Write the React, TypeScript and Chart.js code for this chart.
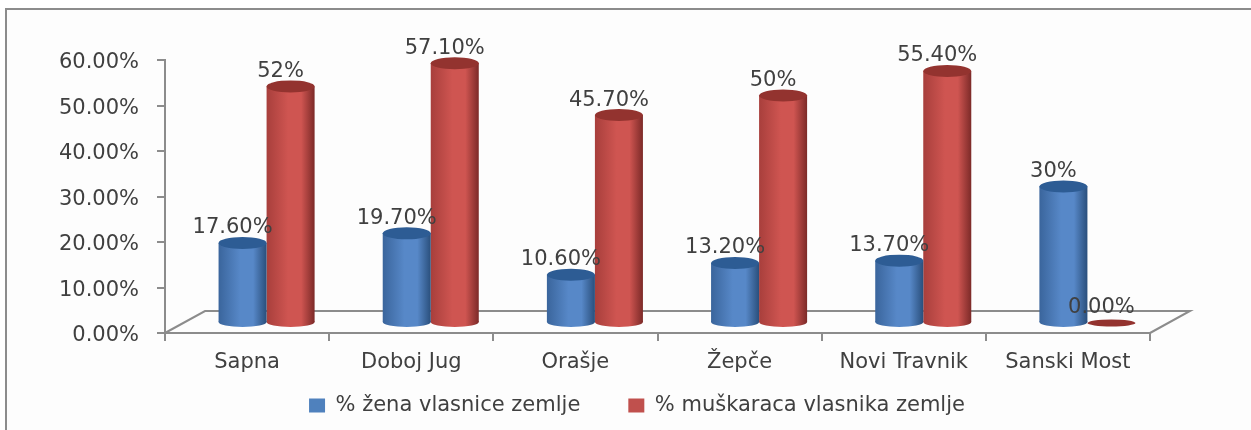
import React, { useEffect, useRef } from "react";
import { Chart, registerables } from "chart.js";

Chart.register(...registerables);

const categories = ["Sapna", "Doboj Jug", "Orašje", "Žepče", "Novi Travnik", "Sanski Most"];
const womenValues = [17.6, 19.7, 10.6, 13.2, 13.7, 30];
const menValues = [52, 57.1, 45.7, 50, 55.4, 0];
const womenLabels = ["17.60%", "19.70%", "10.60%", "13.20%", "13.70%", "30%"];
const menLabels = ["52%", "57.10%", "45.70%", "50%", "55.40%", "0.00%"];
const yTicks = [0, 10, 20, 30, 40, 50, 60];
const seriesNames = ["% žena vlasnice zemlje", "% muškaraca vlasnika zemlje"];

const FONT = '"DejaVu Sans"';
const FONT_SIZE = 21;
const TEXT = "#404040";
const AXIS = "#8c8c8c";
const DX = 19.5;
const DY = -10;
const DEPTH_X = 40;
const DEPTH_Y = 22;
const LEGEND_SHIFT_X = 62;
const LEGEND_SHIFT_Y = -31;

const palettes = [
  { edgeL: "#3a659c", mid: "#5788c8", edgeR: "#2a4f7c", top: "#2d5c94", solid: "#4f81bd" },
  { edgeL: "#a83f3c", mid: "#cf5551", edgeR: "#7c2a28", top: "#93332f", solid: "#c0504d" },
];

function cylinderFill(ctx: any, x0: number, x1: number, p: any) {
  const g = ctx.createLinearGradient(x0, 0, x1, 0);
  g.addColorStop(0, p.edgeL);
  g.addColorStop(0.45, p.mid);
  g.addColorStop(0.72, p.mid);
  g.addColorStop(1, p.edgeR);
  return g;
}

const cylinderPlugin = {
  id: "cylinder",
  afterLayout(chart: any) {
    const l = chart.legend;
    l.left += LEGEND_SHIFT_X;
    l.right += LEGEND_SHIFT_X;
    l.top += LEGEND_SHIFT_Y;
    l.bottom += LEGEND_SHIFT_Y;
  },
  beforeDatasetsDraw(chart: any) {
    const { ctx, chartArea: a } = chart;
    ctx.save();
    ctx.strokeStyle = AXIS;
    ctx.lineWidth = 2;
    ctx.beginPath();
    ctx.moveTo(a.left, a.bottom);
    ctx.lineTo(a.left + DEPTH_X, a.bottom - DEPTH_Y);
    ctx.lineTo(a.right + DEPTH_X, a.bottom - DEPTH_Y);
    ctx.lineTo(a.right, a.bottom);
    ctx.stroke();
    ctx.restore();
  },
  beforeDatasetDraw(chart: any, args: any) {
    const { ctx } = chart;
    ctx.save();
    ctx.translate(DX, DY);
    const meta = chart.getDatasetMeta(args.index);
    const p = palettes[args.index];
    meta.data.forEach((bar: any, i: number) => {
      const v = chart.data.datasets[args.index].data[i];
      if (v === 0) return;
      const half = bar.width / 2;
      ctx.fillStyle = cylinderFill(ctx, bar.x - half, bar.x + half, p);
      ctx.beginPath();
      ctx.ellipse(bar.x, bar.base, half, 5, 0, 0, Math.PI * 2);
      ctx.fill();
    });
  },
  afterDatasetDraw(chart: any, args: any) {
    const { ctx } = chart;
    const meta = chart.getDatasetMeta(args.index);
    const p = palettes[args.index];
    meta.data.forEach((bar: any, i: number) => {
      const v = chart.data.datasets[args.index].data[i];
      const half = bar.width / 2;
      ctx.fillStyle = p.top;
      ctx.beginPath();
      ctx.ellipse(bar.x, bar.y, half, v === 0 ? 3.5 : 6, 0, 0, Math.PI * 2);
      ctx.fill();
    });
    ctx.restore();
  },
  afterDatasetsDraw(chart: any) {
    const { ctx } = chart;
    ctx.save();
    ctx.font = `${FONT_SIZE}px ${FONT}`;
    ctx.fillStyle = TEXT;
    ctx.textAlign = "center";
    ctx.textBaseline = "middle";
    [womenLabels, menLabels].forEach((labels, d) => {
      chart.getDatasetMeta(d).data.forEach((bar: any, i: number) => {
        ctx.fillText(labels[i], bar.x + DX - 10, bar.y + DY - 15);
      });
    });
    ctx.restore();
  },
};

export default function App() {
  const ref = useRef<HTMLCanvasElement>(null);
  useEffect(() => {
    const makeBg = (d: number) => (c: any) => {
      const chart = c.chart;
      const x = chart.scales.x;
      if (!x || c.dataIndex === undefined) return palettes[d].solid;
      const step = x.width / categories.length;
      const w = step * 0.585 / 2;
      const center = x.getPixelForValue(c.dataIndex);
      const x0 = d === 0 ? center - w : center;
      return cylinderFill(chart.ctx, x0, x0 + w, palettes[d]);
    };
    const chart = new Chart(ref.current!, {
      type: "bar",
      plugins: [cylinderPlugin],
      data: {
        labels: categories,
        datasets: [
          { label: seriesNames[0], data: womenValues, backgroundColor: makeBg(0), borderWidth: 0 },
          { label: seriesNames[1], data: menValues, backgroundColor: makeBg(1), borderWidth: 0 },
        ],
      },
      options: {
        animation: false,
        responsive: false,
        clip: false as any,
        layout: { padding: { top: 60, right: 101, bottom: -27, left: 0 } },
        datasets: { bar: { categoryPercentage: 0.585, barPercentage: 1 } },
        plugins: {
          tooltip: { enabled: false },
          legend: {
            position: "bottom",
            maxHeight: 117,
            labels: {
              font: { family: FONT, size: FONT_SIZE },
              color: TEXT,
              boxWidth: 16,
              boxHeight: 14,
              padding: 48,
              generateLabels: () =>
                seriesNames.map((n, i) => ({
                  text: n,
                  fillStyle: palettes[i].solid,
                  strokeStyle: palettes[i].solid,
                  lineWidth: 0,
                  datasetIndex: i,
                  fontColor: TEXT,
                })),
            },
          },
        },
        scales: {
          x: {
            afterFit: (s: any) => { s.height = 45; },
            grid: { drawOnChartArea: false, color: AXIS, lineWidth: 2, tickLength: 8 },
            border: { color: AXIS, width: 2 },
            ticks: { font: { family: FONT, size: FONT_SIZE }, color: TEXT, padding: 9, maxRotation: 0 },
          },
          y: {
            min: 0,
            max: 60,
            afterFit: (s: any) => { s.width = 165; },
            afterBuildTicks: (s: any) => { s.ticks = yTicks.map((value) => ({ value })); },
            grid: { drawOnChartArea: false, color: AXIS, lineWidth: 2, tickLength: 8 },
            border: { color: AXIS, width: 2 },
            ticks: {
              font: { family: FONT, size: FONT_SIZE },
              color: TEXT,
              padding: 18,
              labelOffset: 3,
              callback: (v: any) => Number(v).toFixed(2) + "%",
            },
          },
        },
      },
    });
    return () => chart.destroy();
  }, []);
  return (
    <div style={{ position: "absolute", left: 0, top: 0, width: 1251, height: 430, background: "#ffffff", overflow: "hidden" }}>
      <div style={{ position: "absolute", left: 5, top: 8, width: 1260, height: 440, border: "2px solid #8c8c8c", background: "#fdfdfd" }} />
      <canvas ref={ref} width={1251} height={430} style={{ position: "absolute", left: 0, top: 0, width: 1251, height: 430, filter: "blur(0.5px)" }} />
    </div>
  );
}
